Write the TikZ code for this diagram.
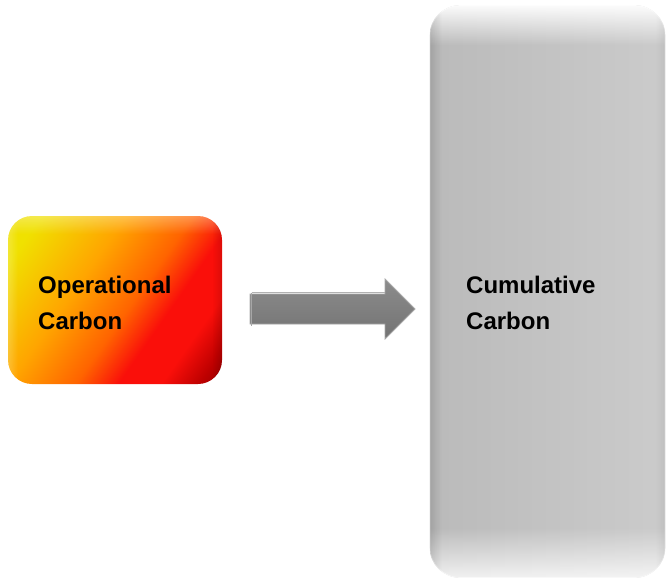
\documentclass[tikz,border=0pt]{standalone}
\usepackage{fontspec}
\setmainfont{Liberation Sans}
\usetikzlibrary{fadings}
\definecolor{hotA}{RGB}{240,225,0}
\definecolor{hotB}{RGB}{255,165,0}
\definecolor{hotC}{RGB}{255,100,0}
\definecolor{hotD}{RGB}{250,15,10}
\definecolor{hotE}{RGB}{190,0,0}
\definecolor{hotF}{RGB}{110,0,0}
\pgfdeclarehorizontalshading{hotshade}{100bp}{
  color(0bp)=(hotA);
  color(22bp)=(hotA);
  color(40bp)=(hotB);
  color(54bp)=(hotC);
  color(63bp)=(hotD);
  color(72bp)=(hotD);
  color(80bp)=(hotE);
  color(90bp)=(hotF);
  color(100bp)=(hotF)}
\pgfdeclarehorizontalshading{grayshade}{100bp}{
  color(0bp)=(black!30);
  color(25bp)=(black!27);
  color(70bp)=(black!21);
  color(100bp)=(black!17)}
\tikzset{
  lbl/.style={font=\bfseries\fontsize{24}{36}\selectfont, align=left, anchor=north west, inner sep=0pt, text=black},
  boxbase/.style={inner sep=0pt, draw=none},
}
\begin{document}
\begin{tikzpicture}[x=1pt,y=-1pt]
\useasboundingbox (0,0) rectangle (668,581);
% operational box
\node[boxbase, rounded corners=24pt, minimum width=214pt, minimum height=168pt, shading=hotshade, shading angle=-35] (op) at (115,300) {};
\begin{scope}
\clip[rounded corners=24pt] (op.north west) rectangle (op.south east);
\fill[white, opacity=0.3, path fading=south] (op.north west) rectangle ([yshift=-18pt]op.north east);
\fill[white, opacity=0.2, path fading=east] (op.north west) rectangle ([xshift=10pt]op.south west);
\fill[black, opacity=0.12, path fading=west] ([xshift=-10pt]op.north east) rectangle (op.south east);
\end{scope}
\node[lbl] (optext) at (38,275.5) {Operational\\Carbon};
% cumulative box
\node[boxbase, draw=black!12, line width=0.6pt, rounded corners=30pt, minimum width=235pt, minimum height=572pt, shading=grayshade, shading angle=0] (cum) at (547.5,291.5) {};
\begin{scope}
\clip[rounded corners=30pt] (cum.north west) rectangle (cum.south east);
\fill[white, opacity=0.95, path fading=south] (cum.north west) rectangle ([yshift=-40pt]cum.north east);
\fill[white, opacity=0.8, path fading=north] ([yshift=50pt]cum.south west) rectangle (cum.south east);
\fill[black, opacity=0.12, path fading=east] (cum.north west) rectangle ([xshift=12pt]cum.south west);
\fill[black, opacity=0.06, path fading=west] ([xshift=-10pt]cum.north east) rectangle (cum.south east);
\end{scope}
\node[lbl] (cumtext) at (466,275.5) {Cumulative\\Carbon};
% arrow
\coordinate (a1) at (250,294);
\coordinate (a2) at (385,294);
\coordinate (a3) at (385,279);
\coordinate (tip) at (415,309);
\coordinate (a5) at (385,339);
\coordinate (a6) at (385,324);
\coordinate (a7) at (250,324);
\shade[top color=black!45, bottom color=black!55, draw=black!35, line width=0.8pt] (a1) -- (a2) -- (a3) -- (tip) -- (a5) -- (a6) -- (a7) -- cycle;
\draw[black!30, line width=1.5pt] ([xshift=1.5pt,yshift=1.5pt]a1) -- ([yshift=1.5pt]a2);
\draw[black!35, line width=1.5pt] ([xshift=1.5pt,yshift=1.5pt]a1) -- ([xshift=1.5pt,yshift=-1.5pt]a7);
\end{tikzpicture}
\end{document}
